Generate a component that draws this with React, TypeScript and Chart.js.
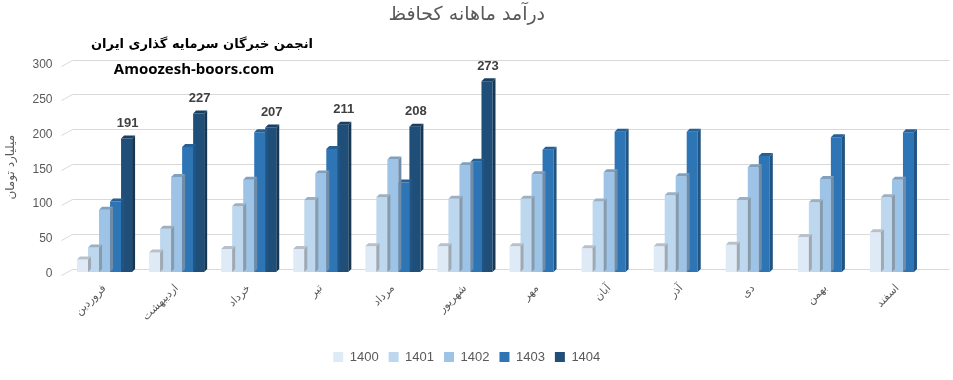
import React, { useEffect, useRef } from "react";
import { Chart, registerables } from "chart.js";

Chart.register(...registerables);

const months = ["فروردین", "اردیبهشت", "خرداد", "تیر", "مرداد", "شهریور", "مهر", "آبان", "آذر", "دی", "بهمن", "اسفند"];
const years = ["1400", "1401", "1402", "1403", "1404"];
const v1400 = [18, 28, 33, 33, 37, 37, 37, 34, 37, 39, 50, 57];
const v1401 = [35, 62, 94, 103, 107, 105, 105, 101, 110, 103, 100, 107];
const v1402 = [89, 136, 132, 141, 161, 153, 140, 143, 137, 150, 133, 132];
const v1403 = [101, 179, 200, 176, 128, 158, 175, 201, 201, 166, 193, 200];
const v1404 = [191, 227, 207, 211, 208, 273, null, null, null, null, null, null];
const yTicks = [0, 50, 100, 150, 200, 250, 300];
const colors = ["#DEEBF7", "#BDD7EE", "#9DC3E6", "#2E75B6", "#1F4E79"];

const chartTitle = "درآمد ماهانه کحافظ";
const yTitle = "میلیارد تومان";
const watermark1 = "انجمن خبرگان سرمایه گذاری ایران";
const watermark2 = "Amoozesh-boors.com";

const LATIN = "'Liberation Sans', 'DejaVu Sans', sans-serif";
const PERSIAN = "'DejaVu Sans', sans-serif";

function shade(hex: string, f: number): string {
  const n = parseInt(hex.slice(1), 16);
  const r = Math.round(((n >> 16) & 255) * f);
  const g = Math.round(((n >> 8) & 255) * f);
  const b = Math.round((n & 255) * f);
  return `rgb(${Math.min(255, r)},${Math.min(255, g)},${Math.min(255, b)})`;
}

const gridPlugin = {
  id: "grid3d",
  beforeDatasetsDraw(chart: any) {
    const ctx = chart.ctx;
    const ys = chart.scales.y;
    const { left, right } = chart.chartArea;
    ctx.save();
    ctx.strokeStyle = "#D9D9D9";
    ctx.lineWidth = 1;
    yTicks.forEach((v) => {
      const y = Math.round(ys.getPixelForValue(v)) + 0.5;
      ctx.beginPath();
      ctx.moveTo(left - 7, y + 3);
      ctx.lineTo(left + 4, y - 3);
      ctx.lineTo(right + 16, y - 3);
      ctx.stroke();
    });
    ctx.restore();
  },
};

const bar3dPlugin = {
  id: "bar3d",
  afterDatasetDraw(chart: any, args: any) {
    const ctx = chart.ctx;
    const meta = args.meta;
    const color = colors[args.index];
    const dx = 3;
    const dy = 3;
    ctx.save();
    meta.data.forEach((el: any, j: number) => {
      const raw = chart.data.datasets[args.index].data[j];
      if (raw == null) return;
      const { x, y, base, width } = el.getProps(["x", "y", "base", "width"], true);
      const l = x - width / 2;
      const r = x + width / 2;
      ctx.fillStyle = shade(color, 0.72);
      ctx.beginPath();
      ctx.moveTo(r, y);
      ctx.lineTo(r + dx, y - dy);
      ctx.lineTo(r + dx, base - dy);
      ctx.lineTo(r, base);
      ctx.closePath();
      ctx.fill();
      ctx.fillStyle = shade(color, 0.82);
      ctx.beginPath();
      ctx.moveTo(l, y);
      ctx.lineTo(l + dx, y - dy);
      ctx.lineTo(r + dx, y - dy);
      ctx.lineTo(r, y);
      ctx.closePath();
      ctx.fill();
    });
    ctx.restore();
  },
};

const labelPlugin = {
  id: "valueLabels",
  afterDatasetsDraw(chart: any) {
    const ctx = chart.ctx;
    const idx = 4;
    const meta = chart.getDatasetMeta(idx);
    ctx.save();
    ctx.font = `bold 13px ${LATIN}`;
    ctx.fillStyle = "#404040";
    ctx.textAlign = "center";
    ctx.textBaseline = "middle";
    meta.data.forEach((el: any, j: number) => {
      const v = v1404[j];
      if (v == null) return;
      ctx.fillText(String(v), el.x + 1, el.y - 15);
    });
    ctx.restore();
  },
};

const watermarkPlugin = {
  id: "watermark",
  afterDraw(chart: any) {
    const ctx = chart.ctx;
    ctx.save();
    ctx.fillStyle = "#000000";
    ctx.textAlign = "center";
    ctx.textBaseline = "middle";
    ctx.font = `bold 13px ${PERSIAN}`;
    ctx.fillText(watermark1, 202, 45);
    ctx.font = `bold 15px 'Open Sans', ${LATIN}`;
    ctx.fillText(watermark2, 194, 70);
    ctx.restore();
  },
};

export default function App() {
  const ref = useRef<HTMLCanvasElement | null>(null);

  useEffect(() => {
    if (!ref.current) return;
    const data = [v1400, v1401, v1402, v1403, v1404];
    const chart = new Chart(ref.current, {
      type: "bar",
      data: {
        labels: months,
        datasets: years.map((yr, i) => ({
          label: yr,
          data: data[i] as any,
          backgroundColor: colors[i],
          borderWidth: 0,
          categoryPercentage: 0.764,
          barPercentage: 1,
        })),
      },
      options: {
        responsive: false,
        animation: false,
        layout: { padding: { left: 0, right: 19.5, top: 0, bottom: 6.5 } },
        plugins: {
          title: {
            display: true,
            text: chartTitle,
            color: "#595959",
            font: { size: 19, weight: "normal", family: PERSIAN },
            padding: { top: 4, bottom: 35.7 },
          },
          legend: {
            position: "bottom",
            labels: {
              boxWidth: 10,
              boxHeight: 10,
              padding: 10,
              color: "#595959",
              font: { size: 13, family: LATIN },
            },
          },
          tooltip: { enabled: false },
        },
        scales: {
          x: {
            grid: { display: false, drawTicks: false },
            border: { display: false },
            ticks: {
              minRotation: 45,
              maxRotation: 45,
              padding: 10,
              color: "#595959",
              font: { size: 11, family: PERSIAN },
            },
            afterFit(scale: any) {
              scale.height = 68.5;
            },
          },
          y: {
            min: 0,
            max: 300,
            grid: { display: false, drawTicks: false },
            border: { display: false },
            ticks: {
              stepSize: 50,
              padding: 16,
              labelOffset: 2,
              color: "#595959",
              font: { size: 12, family: LATIN },
            },
            title: {
              display: true,
              text: yTitle,
              color: "#595959",
              font: { size: 12, family: PERSIAN },
              padding: { top: 4, bottom: 0 },
            },
            afterFit(scale: any) {
              scale.width = 68.5;
            },
          },
        },
      },
      plugins: [gridPlugin, bar3dPlugin, labelPlugin, watermarkPlugin],
    });
    return () => chart.destroy();
  }, []);

  return (
    <div style={{ position: "fixed", left: 0, top: 0, width: 953, height: 380, background: "#fff" }}>
      <canvas ref={ref} width={953} height={380} style={{ display: "block" }} />
    </div>
  );
}
